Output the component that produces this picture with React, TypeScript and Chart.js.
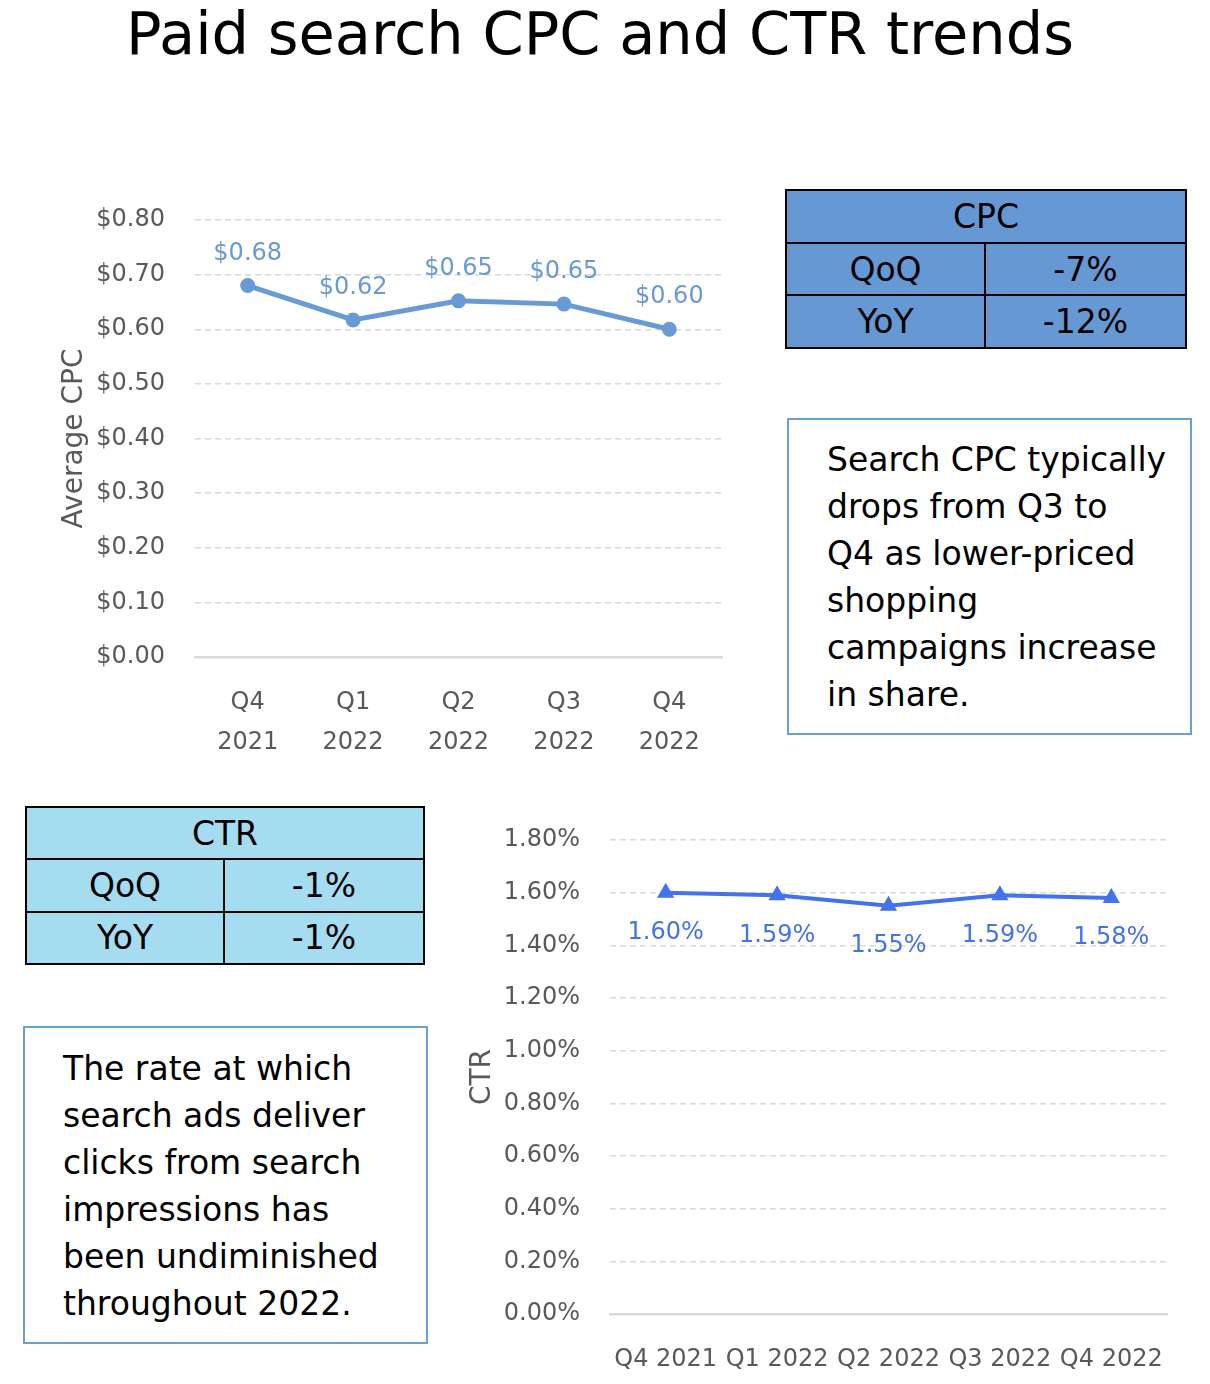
import React, { useEffect, useRef } from "react";
import { Chart, registerables } from "chart.js";

Chart.register(...registerables);

const FONT = "'DejaVu Sans', sans-serif";
const TICK_COLOR = "#595959";
const GRID_COLOR = "#d9d9d9";

// ---- Data ----
const titleText = "Paid search CPC and CTR trends";

const cpcCategories = [
  ["Q4", "2021"],
  ["Q1", "2022"],
  ["Q2", "2022"],
  ["Q3", "2022"],
  ["Q4", "2022"],
];
const cpcValues = [0.68, 0.617, 0.652, 0.646, 0.6];
const cpcAxisMax = 0.8;
const cpcAxisStep = 0.1;

const ctrCategories = ["Q4 2021", "Q1 2022", "Q2 2022", "Q3 2022", "Q4 2022"];
const ctrValues = [0.016, 0.0159, 0.0155, 0.0159, 0.0158];
const ctrAxisMax = 0.018;
const ctrAxisStep = 0.002;

const cpcTableRows = [
  ["QoQ", "-7%"],
  ["YoY", "-12%"],
];
const ctrTableRows = [
  ["QoQ", "-1%"],
  ["YoY", "-1%"],
];

const cpcNoteLines = [
  "Search CPC typically",
  "drops from Q3 to",
  "Q4 as lower-priced",
  "shopping",
  "campaigns increase",
  "in share.",
];
const ctrNoteLines = [
  "The rate at which",
  "search ads deliver",
  "clicks from search",
  "impressions has",
  "been undiminished",
  "throughout 2022.",
];

const CPC_BLUE = "#689bd5";
const CTR_BLUE = "#4472ea";
const NONE = "rgba(0,0,0,0)";

function makeLabelPlugin(format: (v: number) => string, color: string, offset: number) {
  return {
    id: "valueLabels",
    afterDatasetsDraw(chart: any) {
      const { ctx } = chart;
      const meta = chart.getDatasetMeta(0);
      const data = chart.data.datasets[0].data as number[];
      ctx.save();
      ctx.font = `24px ${FONT}`;
      ctx.fillStyle = color;
      ctx.textAlign = "center";
      ctx.textBaseline = "middle";
      meta.data.forEach((el: any, i: number) => {
        ctx.fillText(format(data[i]), el.x, el.y + offset);
      });
      ctx.restore();
    },
  };
}

function ChartCanvas({ make, left, top, width, height }: any) {
  const ref = useRef<HTMLCanvasElement | null>(null);
  useEffect(() => {
    const chart = new Chart(ref.current as HTMLCanvasElement, make());
    return () => chart.destroy();
  }, []);
  return (
    <canvas
      ref={ref}
      width={width}
      height={height}
      style={{ position: "absolute", left, top, width, height }}
    />
  );
}

function xScale(tickGap: number, axisHeight: number, lineHeight: number) {
  return {
    offset: true,
    grid: {
      display: true,
      drawOnChartArea: false,
      drawTicks: true,
      tickLength: tickGap,
      color: NONE,
      tickColor: NONE,
    },
    border: { display: true, color: GRID_COLOR, width: 2.5 },
    ticks: {
      color: TICK_COLOR,
      font: { family: FONT, size: 24, lineHeight },
      padding: 0,
      maxRotation: 0,
      autoSkip: false,
    },
    afterFit: (s: any) => {
      s.height = axisHeight;
    },
  };
}

function yScale(max: number, step: number, fmt: (v: number) => string, title: string, titlePad: number, width: number) {
  return {
    min: 0,
    max,
    ticks: {
      stepSize: step,
      color: TICK_COLOR,
      font: { family: FONT, size: 24 },
      padding: 0,
      callback: (v: any) => fmt(Number(v)),
    },
    grid: {
      color: (c: any) => (c.tick && c.tick.value === 0 ? NONE : GRID_COLOR),
      lineWidth: 1.5,
      drawTicks: true,
      tickLength: 30,
      tickColor: NONE,
    },
    border: { display: false, dash: [6, 4] },
    title: {
      display: true,
      text: title,
      color: TICK_COLOR,
      font: { family: FONT, size: 28 },
      padding: { top: titlePad, bottom: 0 },
    },
    afterFit: (s: any) => {
      s.width = width;
    },
  };
}

function cpcConfig(): any {
  return {
    type: "line",
    data: {
      labels: cpcCategories,
      datasets: [
        {
          data: cpcValues,
          borderColor: CPC_BLUE,
          backgroundColor: CPC_BLUE,
          borderWidth: 5,
          pointRadius: 5,
          pointHoverRadius: 5,
          tension: 0,
        },
      ],
    },
    options: {
      animation: false,
      responsive: false,
      layout: { padding: { left: 0, right: 18, top: 30, bottom: 0 } },
      plugins: { legend: { display: false }, tooltip: { enabled: false } },
      scales: {
        x: xScale(26, 113, 1.667),
        y: yScale(cpcAxisMax, cpcAxisStep, (v) => "$" + v.toFixed(2), "Average CPC", 18, 155),
      },
    },
    plugins: [makeLabelPlugin((v) => "$" + v.toFixed(2), CPC_BLUE, -32)],
  };
}

function ctrConfig(): any {
  return {
    type: "line",
    data: {
      labels: ctrCategories,
      datasets: [
        {
          data: ctrValues,
          borderColor: CTR_BLUE,
          backgroundColor: CTR_BLUE,
          borderWidth: 4,
          pointStyle: "triangle",
          pointRadius: 6,
          pointHoverRadius: 6,
          tension: 0,
        },
      ],
    },
    options: {
      animation: false,
      responsive: false,
      layout: { padding: { left: 0, right: 13, top: 20, bottom: 0 } },
      plugins: { legend: { display: false }, tooltip: { enabled: false } },
      scales: {
        x: xScale(31, 70, 1.2),
        y: yScale(ctrAxisMax, ctrAxisStep, (v) => (v * 100).toFixed(2) + "%", "CTR", 6, 150),
      },
    },
    plugins: [makeLabelPlugin((v) => (v * 100).toFixed(2) + "%", CTR_BLUE, 40)],
  };
}

function StatTable({ title, rows, left, top, width, height, fill }: any) {
  const line = "2px solid #000";
  const cell: any = {
    display: "flex",
    alignItems: "center",
    justifyContent: "center",
    boxSizing: "border-box",
  };
  return (
    <div
      style={{
        position: "absolute",
        left,
        top,
        width,
        height,
        background: fill,
        border: line,
        boxSizing: "border-box",
        fontFamily: FONT,
        fontSize: 33,
        color: "#000",
        display: "flex",
        flexDirection: "column",
      }}
    >
      <div style={{ ...cell, flex: 1, borderBottom: line }}>{title}</div>
      {rows.map((r: string[], i: number) => (
        <div
          key={i}
          style={{
            flex: 1,
            display: "flex",
            boxSizing: "border-box",
            borderBottom: i < rows.length - 1 ? line : "none",
          }}
        >
          <div style={{ ...cell, width: "50%", borderRight: line }}>{r[0]}</div>
          <div style={{ ...cell, width: "50%" }}>{r[1]}</div>
        </div>
      ))}
    </div>
  );
}

function NoteBox({ lines, left, top, width, height, padLeft, padTop }: any) {
  return (
    <div
      style={{
        position: "absolute",
        left,
        top,
        width,
        height,
        border: "2px solid #6b9fd8",
        boxSizing: "border-box",
        paddingLeft: padLeft,
        paddingTop: padTop,
        fontFamily: FONT,
        fontSize: 33,
        lineHeight: "47px",
        color: "#000",
        whiteSpace: "nowrap",
      }}
    >
      {lines.map((l: string, i: number) => (
        <div key={i}>{l}</div>
      ))}
    </div>
  );
}

export default function App() {
  return (
    <div
      style={{
        position: "absolute",
        left: 0,
        top: 0,
        width: 1210,
        height: 1384,
        background: "#fff",
        overflow: "hidden",
      }}
    >
      <div
        style={{
          position: "absolute",
          left: 0,
          top: 0,
          width: 1200,
          textAlign: "center",
          fontFamily: FONT,
          fontSize: 59,
          lineHeight: "68px",
          color: "#000",
        }}
      >
        {titleText}
      </div>
      <ChartCanvas make={cpcConfig} left={40} top={190} width={700} height={580} />
      <StatTable
        title="CPC"
        rows={cpcTableRows}
        left={785}
        top={189}
        width={402}
        height={160}
        fill="#6699d4"
      />
      <NoteBox lines={cpcNoteLines} left={787} top={418} width={405} height={317} padLeft={38} padTop={16} />
      <StatTable
        title="CTR"
        rows={ctrTableRows}
        left={25}
        top={806}
        width={400}
        height={159}
        fill="#a6dcf0"
      />
      <NoteBox lines={ctrNoteLines} left={23} top={1026} width={405} height={318} padLeft={38} padTop={17} />
      <ChartCanvas make={ctrConfig} left={460} top={820} width={720} height={564} />
    </div>
  );
}
